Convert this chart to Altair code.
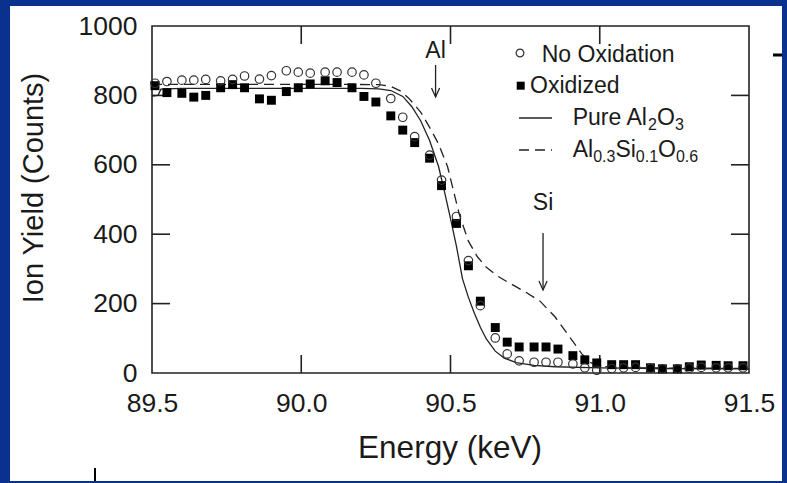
import altair as alt
import pandas as pd

# ---------------- data ----------------
energy = [89.51, 89.55, 89.60, 89.64, 89.68, 89.73, 89.77, 89.81, 89.86, 89.90,
          89.95, 89.99, 90.03, 90.08, 90.12, 90.17, 90.21, 90.25, 90.30, 90.34,
          90.38, 90.43, 90.47, 90.52, 90.56, 90.60, 90.65, 90.69, 90.73, 90.78,
          90.82, 90.86, 90.91, 90.95, 90.99, 91.04, 91.08, 91.12, 91.17, 91.21,
          91.26, 91.30, 91.34, 91.39, 91.43, 91.48]
oxidized = [828, 808, 806, 795, 800, 822, 831, 822, 790, 786,
            811, 822, 833, 842, 837, 822, 797, 781, 741, 700,
            664, 619, 540, 431, 309, 207, 131, 89, 75, 75,
            75, 69, 50, 38, 29, 24, 24, 24, 15, 12,
            12, 18, 23, 22, 21, 21]
no_oxidation = [835, 840, 844, 844, 846, 842, 846, 856, 847, 857,
                871, 867, 864, 867, 867, 867, 859, 835, 791, 737,
                681, 628, 556, 451, 324, 194, 101, 55, 35, 31,
                31, 31, 26, 15, 8, 13, 15, 16, 14, 12,
                12, 14, 16, 15, 15, 15]

pure_e = [89.50, 89.52, 89.53, 89.60, 89.80, 90.00, 90.20, 90.26, 90.30, 90.34,
          90.37, 90.40, 90.43, 90.46, 90.48, 90.50, 90.52, 90.54, 90.56, 90.58,
          90.60, 90.62, 90.65, 90.68, 90.72, 90.78, 90.85, 91.00, 91.20, 91.50]
pure_y = [798, 800, 818, 820, 820, 820, 820, 819, 814, 797,
          768, 727, 670, 595, 522, 445, 365, 272, 218, 172,
          132, 98, 63, 43, 30, 22, 18, 15, 13, 12]

alloy_e = [89.50, 89.80, 90.10, 90.26, 90.30, 90.33, 90.36, 90.40, 90.43, 90.46,
           90.49, 90.51, 90.53, 90.56, 90.59, 90.62, 90.66, 90.70, 90.75, 90.80,
           90.85, 90.90, 90.94, 90.97, 91.00, 91.10, 91.50]
alloy_y = [832, 832, 832, 831, 826, 814, 792, 752, 708, 660,
           595, 525, 455, 380, 335, 305, 278, 258, 234, 207,
           162, 103, 55, 30, 19, 15, 13]

x_tick_values = [89.5, 90.0, 90.5, 91.0, 91.5]
y_tick_values = [0, 200, 400, 600, 800, 1000]
x_inner_ticks = [90.0, 90.5, 91.0]
y_inner_ticks = [200, 400, 600, 800]
al_edge = 90.45
si_edge = 90.81

# ---------------- style ----------------
FONT = "Liberation Sans"
TXT = "#1a1a1a"
INK = "#222222"
W, H = 597, 347
TICK = 18

pts = pd.DataFrame({"e": energy, "ox": oxidized, "no": no_oxidation})
pure = pd.DataFrame({"e": pure_e, "y": pure_y})
alloy = pd.DataFrame({"e": alloy_e, "y": alloy_y})
one = pd.DataFrame({"k": [0]})

xscale = alt.Scale(domain=[89.5, 91.5], nice=False, zero=False)
yscale = alt.Scale(domain=[0, 1000], nice=False)
xaxis = alt.Axis(values=x_tick_values, format=".1f", domain=False, ticks=False, grid=False,
                 labelFont=FONT, labelFontSize=26.5, labelColor=TXT, labelPadding=17,
                 labelFlush=False, labelOverlap=False,
                 title="Energy (keV)", titleFont=FONT, titleFontSize=31.5,
                 titleFontWeight="normal", titleColor=TXT, titleX=297.5, titleY=84,
                 titleBaseline="alphabetic", titleAlign="center", zindex=1)
yaxis = alt.Axis(values=y_tick_values, format="d", domain=False, ticks=False, grid=False,
                 labelFont=FONT, labelFontSize=26.5, labelColor=TXT, labelPadding=15,
                 labelOverlap=False, labelFlush=False,
                 title="Ion Yield (Counts)", titleFont=FONT, titleFontSize=29,
                 titleFontWeight="normal", titleColor=TXT, titleAngle=270,
                 titleX=-110, titleY=161.5, titleBaseline="alphabetic",
                 titleAlign="center", zindex=1)


def X(f):
    return alt.X(f"{f}:Q", scale=xscale, axis=xaxis)


def Y(f):
    return alt.Y(f"{f}:Q", scale=yscale, axis=yaxis)


layers = []
# white page
layers.append(alt.Chart(one).mark_rect(color="white").encode(
    x=alt.value(-142), x2=alt.value(630), y=alt.value(-20), y2=alt.value(455)))
# slide artifacts
layers.append(alt.Chart(one).mark_rule(color="black", strokeWidth=3).encode(
    x=alt.value(621), x2=alt.value(630), y=alt.value(29)))
layers.append(alt.Chart(one).mark_rule(color="black", strokeWidth=2).encode(
    x=alt.value(-57), y=alt.value(442), y2=alt.value(455)))

# frame
layers.append(alt.Chart(one).mark_rect(filled=False, color=INK, strokeWidth=1.6).encode(
    x=alt.value(0), x2=alt.value(W), y=alt.value(0), y2=alt.value(H)))

# inward ticks
xt = pd.DataFrame({"t": x_inner_ticks})
yt = pd.DataFrame({"t": y_inner_ticks})
rule = dict(color=INK, strokeWidth=1.6)
layers.append(alt.Chart(xt).mark_rule(**rule).encode(x=X("t"), y=alt.value(H), y2=alt.value(H - TICK)))
layers.append(alt.Chart(xt).mark_rule(**rule).encode(x=X("t"), y=alt.value(0), y2=alt.value(TICK)))
layers.append(alt.Chart(yt).mark_rule(**rule).encode(y=Y("t"), x=alt.value(0), x2=alt.value(TICK)))
layers.append(alt.Chart(yt).mark_rule(**rule).encode(y=Y("t"), x=alt.value(W - TICK), x2=alt.value(W)))

# simulation curves
layers.append(alt.Chart(pure).mark_line(color=INK, strokeWidth=1.3).encode(x=X("e"), y=Y("y")))
layers.append(alt.Chart(alloy).mark_line(color=INK, strokeWidth=1.3, strokeDash=[10, 6]).encode(
    x=X("e"), y=Y("y")))

# measured points
layers.append(alt.Chart(pts).mark_point(shape="square", filled=True, size=80, color="black",
                                        opacity=1).encode(x=X("e"), y=Y("ox")))
layers.append(alt.Chart(pts).mark_point(shape="circle", filled=False, size=72, color="#333333",
                                        strokeWidth=1.2, opacity=1).encode(x=X("e"), y=Y("no")))

# edge arrows
ar = pd.DataFrame({"e": [al_edge]})
sr = pd.DataFrame({"e": [si_edge]})
head = "M-0.45,-1L0,0L0.45,-1"
layers.append(alt.Chart(ar).mark_rule(color=INK, strokeWidth=1.3).encode(
    x=X("e"), y=alt.value(39), y2=alt.value(71)))
layers.append(alt.Chart(ar).mark_point(shape=head, filled=False, size=324, color=INK,
                                       strokeWidth=1.3, opacity=1).encode(x=X("e"), y=alt.value(71)))
layers.append(alt.Chart(sr).mark_rule(color=INK, strokeWidth=1.3).encode(
    x=X("e"), y=alt.value(207), y2=alt.value(264)))
layers.append(alt.Chart(sr).mark_point(shape=head, filled=False, size=324, color=INK,
                                       strokeWidth=1.3, opacity=1).encode(x=X("e"), y=alt.value(264)))
layers.append(alt.Chart(ar).mark_text(text="Al", font=FONT, fontSize=23, color=TXT,
                                      baseline="alphabetic", align="center").encode(
    x=X("e"), y=alt.value(32)))
layers.append(alt.Chart(sr).mark_text(text="Si", font=FONT, fontSize=23, color=TXT,
                                      baseline="alphabetic", align="center").encode(
    x=X("e"), y=alt.value(184)))

# legend
WID = {'P': .667, 'u': .556, 'r': .333, 'e': .556, ' ': .278, 'A': .667, 'l': .222,
       'O': .778, 'S': .667, 'i': .222, '0': .556, '1': .556, '2': .556, '3': .556,
       '6': .556, '.': .278}


def rich(segments, x0, base):
    out = []
    x = x0
    for s, size, dy in segments:
        out.append(alt.Chart(one).mark_text(text=s, font=FONT, fontSize=size, color=TXT,
                                            align="left", baseline="alphabetic").encode(
            x=alt.value(x), y=alt.value(base + dy)))
        x += sum(WID.get(c, .556) for c in s) * size
    return out


MAIN, SUB, SDY = 23, 16, 5
layers.append(alt.Chart(one).mark_point(shape="circle", filled=False, size=60, color="#333333",
                                        strokeWidth=1.2, opacity=1).encode(
    x=alt.value(368), y=alt.value(27)))
layers.append(alt.Chart(one).mark_text(text="No Oxidation", font=FONT, fontSize=MAIN, color=TXT,
                                       align="left", baseline="alphabetic").encode(
    x=alt.value(389.7), y=alt.value(35.7)))
layers.append(alt.Chart(one).mark_point(shape="square", filled=True, size=64, color="black",
                                        opacity=1).encode(x=alt.value(368.7), y=alt.value(59.7)))
layers.append(alt.Chart(one).mark_text(text="Oxidized", font=FONT, fontSize=MAIN, color=TXT,
                                       align="left", baseline="alphabetic").encode(
    x=alt.value(378), y=alt.value(67.3)))
layers.append(alt.Chart(one).mark_rule(color=INK, strokeWidth=1.3).encode(
    x=alt.value(367), x2=alt.value(400), y=alt.value(92)))
layers.append(alt.Chart(one).mark_rule(color=INK, strokeWidth=1.3, strokeDash=[10, 6]).encode(
    x=alt.value(367), x2=alt.value(400), y=alt.value(124)))
layers += rich([("Pure Al", MAIN, 0), ("2", SUB, SDY), ("O", MAIN, 0), ("3", SUB, SDY)], 420.7, 99)
layers += rich([("Al", MAIN, 0), ("0.3", SUB, SDY), ("Si", MAIN, 0), ("0.1", SUB, SDY),
                ("O", MAIN, 0), ("0.6", SUB, SDY)], 420.7, 130.7)

chart = alt.layer(*layers).properties(
    width=W, height=H,
    padding={"left": 152, "top": 26, "right": 38, "bottom": 110},
    autosize=alt.AutoSizeParams(type="none"),
    background="#0b318f",
).configure_view(stroke=None)

chart.save("out.html", embed_options={"renderer": "svg", "actions": False})
